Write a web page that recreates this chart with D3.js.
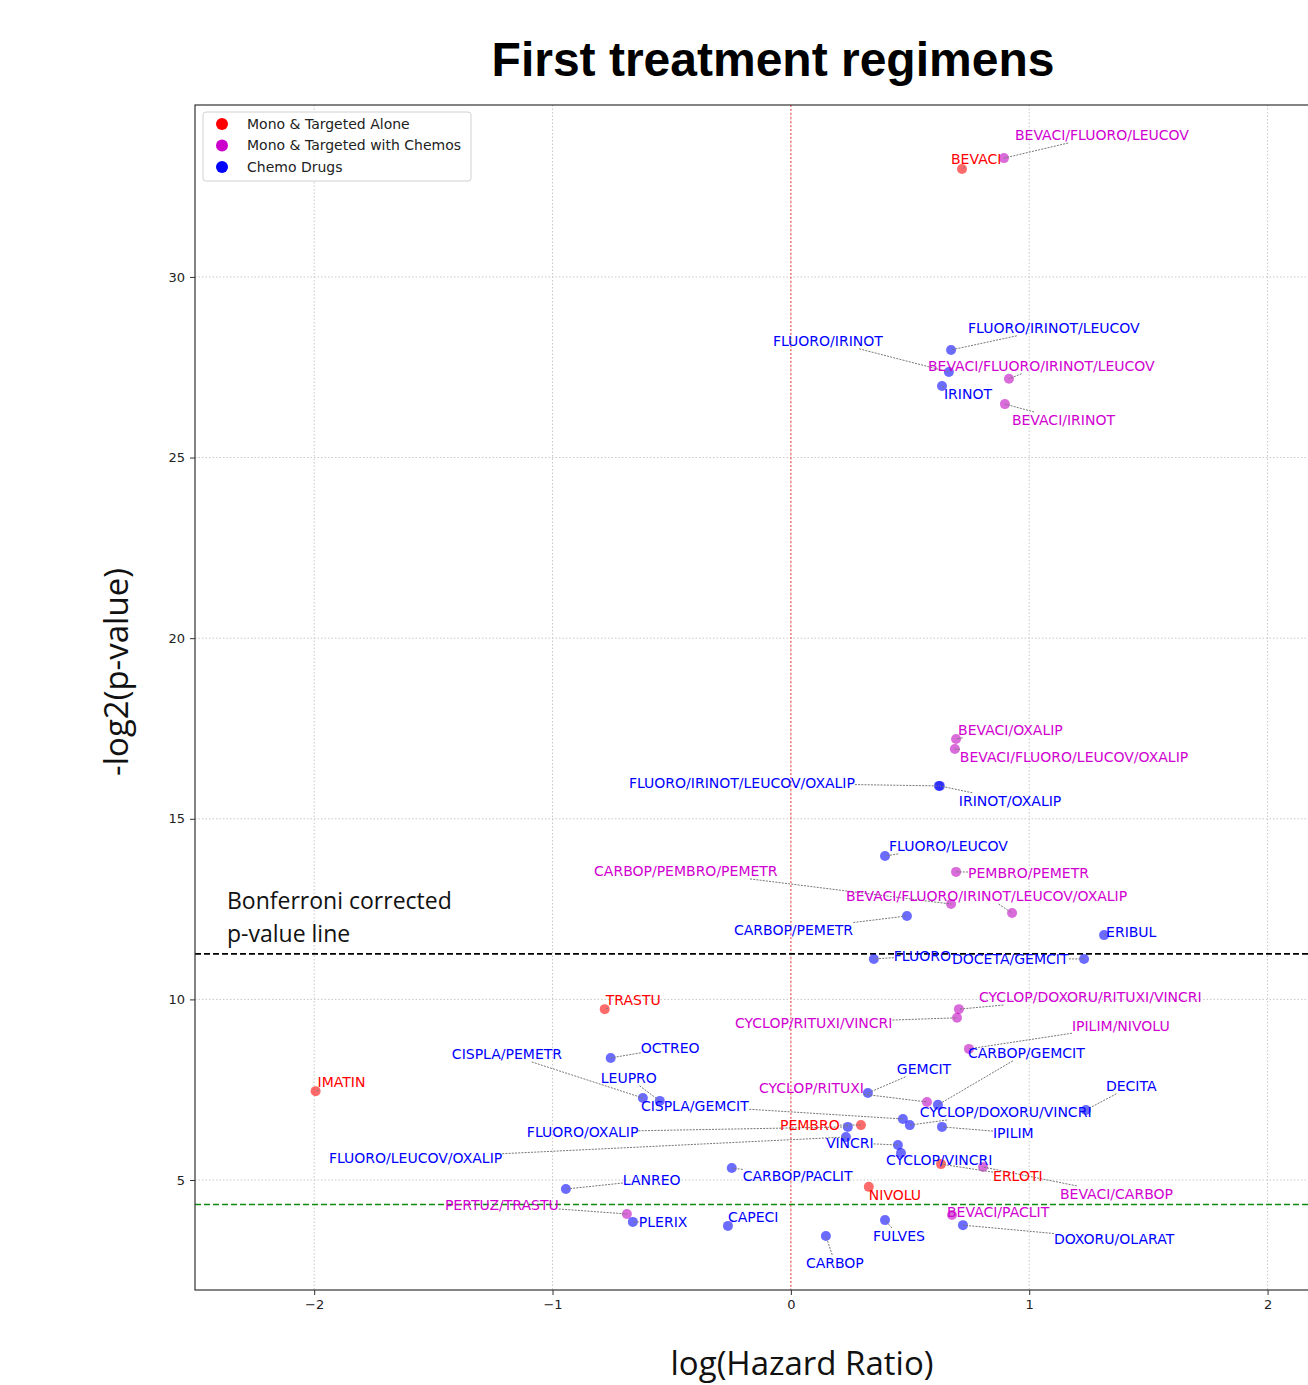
<!DOCTYPE html>
<html>
<head>
<meta charset="utf-8">
<script src="https://cdn.jsdelivr.net/npm/d3@7"></script>
<style>
  body { margin: 0; background: #fff; }
  svg { display: block; }
  .tick text { font-family: "DejaVu Sans", sans-serif; font-size: 13px; fill: #222; }
  .lbl { font-family: "DejaVu Sans", sans-serif; font-size: 14px; }
</style>
</head>
<body>
<div id="chart"></div>
<script>
// drug regimens, their group, log hazard ratio and -log2(p)
const drugs = [
  "BEVACI/FLUORO/LEUCOV", "BEVACI", "FLUORO/IRINOT/LEUCOV", "FLUORO/IRINOT",
  "BEVACI/FLUORO/IRINOT/LEUCOV", "IRINOT", "BEVACI/IRINOT", "BEVACI/OXALIP",
  "BEVACI/FLUORO/LEUCOV/OXALIP", "FLUORO/IRINOT/LEUCOV/OXALIP", "IRINOT/OXALIP", "FLUORO/LEUCOV",
  "PEMBRO/PEMETR", "CARBOP/PEMBRO/PEMETR", "BEVACI/FLUORO/IRINOT/LEUCOV/OXALIP", "CARBOP/PEMETR",
  "ERIBUL", "FLUORO", "DOCETA/GEMCIT", "TRASTU",
  "CYCLOP/DOXORU/RITUXI/VINCRI", "CYCLOP/RITUXI/VINCRI", "IPILIM/NIVOLU", "CARBOP/GEMCIT",
  "OCTREO", "CISPLA/PEMETR", "LEUPRO", "CISPLA/GEMCIT",
  "GEMCIT", "CYCLOP/RITUXI", "CYCLOP/DOXORU/VINCRI", "DECITA",
  "PEMBRO", "FLUORO/OXALIP", "IPILIM", "FLUORO/LEUCOV/OXALIP",
  "VINCRI", "CYCLOP/VINCRI", "ERLOTI", "BEVACI/CARBOP",
  "CARBOP/PACLIT", "LANREO", "NIVOLU", "IMATIN",
  "PERTUZ/TRASTU", "PLERIX", "CAPECI", "CARBOP",
  "FULVES", "BEVACI/PACLIT", "DOXORU/OLARAT"
];
const groups = [
  "with", "alone", "chemo", "chemo",
  "with", "chemo", "with", "with",
  "with", "chemo", "chemo", "chemo",
  "with", "with", "with", "chemo",
  "chemo", "chemo", "chemo", "alone",
  "with", "with", "with", "chemo",
  "chemo", "chemo", "chemo", "chemo",
  "chemo", "with", "chemo", "chemo",
  "alone", "chemo", "chemo", "chemo",
  "chemo", "chemo", "alone", "with",
  "chemo", "chemo", "alone", "alone",
  "with", "chemo", "chemo", "chemo",
  "chemo", "with", "chemo"
];
const logHR = [
  0.894, 0.718, 0.672, 0.663,
  0.915, 0.634, 0.898, 0.693,
  0.688, 0.621, 0.625, 0.395,
  0.693, 0.672, 0.928, 0.487,
  1.314, 0.348, 1.230, -0.781,
  0.705, 0.697, 0.747, 0.617,
  -0.756, -0.621, -0.550, 0.470,
  0.323, 0.571, 0.499, 1.238,
  0.294, 0.239, 0.634, 0.231,
  0.449, 0.462, 0.630, 0.806,
  -0.248, -0.944, 0.327, -1.994,
  -0.688, -0.663, -0.264, 0.147,
  0.395, 0.676, 0.722
];
const negLog2P = [
  33.29, 32.99, 27.98, 27.37,
  27.18, 26.98, 26.48, 17.21,
  16.93, 15.91, 15.91, 13.97,
  13.53, 12.64, 12.39, 12.31,
  11.78, 11.12, 11.12, 9.73,
  9.73, 9.49, 8.63, 7.08,
  8.38, 7.27, 7.19, 6.69,
  7.41, 7.16, 6.52, 6.94,
  6.52, 6.47, 6.47, 6.19,
  5.97, 5.75, 5.44, 5.36,
  5.33, 4.75, 4.81, 7.46,
  4.06, 3.84, 3.73, 3.45,
  3.89, 4.03, 3.75
];
const bonferroni = 11.26;
const nominal = 4.32;   // -log2(0.05)

const xTicks = [-2, -1, 0, 1, 2];
const yTicks = [5, 10, 15, 20, 25, 30];

const groupNames = ["alone", "with", "chemo"];
const legendLabels = ["Mono & Targeted Alone", "Mono & Targeted with Chemos", "Chemo Drugs"];

// label placement (pixel offset of label's left/middle from the point), as the repelled layout had it
const labelOffsets = [
  [11, -23], [-11, -10], [17, -22], [-176, -31],
  [-81, -13], [2, 8], [7, 16], [2, -9],
  [5, 8], [-310, -3], [19, 15], [4, -10],
  [12, 1], [-357, -33], [-166, -17], [-173, 14],
  [2, -3], [20, -3], [-132, 0], [1, -9],
  [20, -12], [-222, 5], [103, -23], [30, -52],
  [30, -10], [-191, -44], [-59, -23], [-262, -13],
  [29, -24], [-168, -14], [10, -13], [20, -24],
  [-81, 0], [-321, 5], [51, 6], [-517, 21],
  [-72, -2], [-15, 7], [52, 12], [77, 27],
  [11, 8], [57, -9], [0, 8], [2, -9],
  [-182, -9], [6, 0], [0, -9], [-20, 27],
  [-12, 16], [-5, -3], [91, 14]
];

const W = 1308, H = 1385;
const plot = {left: 195, right: 1351, top: 105, bottom: 1290};

const dotColor = d3.scaleOrdinal().domain(groupNames).range(["#ff0000", "#bf00bf", "#0000ff"]);
const textColor = d3.scaleOrdinal().domain(groupNames).range(["#ff0000", "#d000d0", "#0000ff"]);
const legendColor = d3.scaleOrdinal().domain(groupNames).range(["#ff0000", "#cc00cc", "#0000ff"]);

const x = d3.scaleLinear().domain([-2.5, 2.35]).range([plot.left, plot.right]);
const y = d3.scaleLinear().domain([1.955, 34.76]).range([plot.bottom, plot.top]);

const svg = d3.select("#chart").append("svg").attr("width", W).attr("height", H);

// title
svg.append("text").attr("x", 773).attr("y", 76).attr("text-anchor", "middle")
  .style("font-family", "'Liberation Sans', Arial, sans-serif").style("font-weight", "bold")
  .style("font-size", "48px").text("First treatment regimens");

// grid
const grid = svg.append("g");
grid.selectAll(".gx").data(xTicks).enter().append("line")
  .attr("x1", d => x(d)).attr("x2", d => x(d)).attr("y1", plot.top).attr("y2", plot.bottom)
  .attr("stroke", "#c8c8c8").attr("stroke-width", 1).attr("stroke-dasharray", "1.5,2");
grid.selectAll(".gy").data(yTicks).enter().append("line")
  .attr("x1", plot.left).attr("x2", plot.right).attr("y1", d => y(d)).attr("y2", d => y(d))
  .attr("stroke", "#c8c8c8").attr("stroke-width", 1).attr("stroke-dasharray", "1.5,2");

// reference lines
svg.append("line").attr("x1", x(0)).attr("x2", x(0)).attr("y1", plot.top).attr("y2", plot.bottom)
  .attr("stroke", "#ff0000").attr("stroke-opacity", 0.55).attr("stroke-width", 1.3).attr("stroke-dasharray", "2,2");
svg.append("line").attr("x1", plot.left).attr("x2", plot.right).attr("y1", y(bonferroni)).attr("y2", y(bonferroni))
  .attr("stroke", "#000").attr("stroke-width", 1.6).attr("stroke-dasharray", "6,3");
svg.append("line").attr("x1", plot.left).attr("x2", plot.right).attr("y1", y(nominal)).attr("y2", y(nominal))
  .attr("stroke", "#108a10").attr("stroke-width", 1.6).attr("stroke-dasharray", "6,3");

// axes
const xAxis = svg.append("g").attr("transform", `translate(0,${plot.bottom})`)
  .call(d3.axisBottom(x).tickValues(xTicks).tickSize(5).tickPadding(5).tickFormat(d => d < 0 ? "\u2212" + Math.abs(d) : d));
const yAxis = svg.append("g").attr("transform", `translate(${plot.left},0)`)
  .call(d3.axisLeft(y).tickValues(yTicks).tickSize(5).tickPadding(5));
[xAxis, yAxis].forEach(a => { a.select(".domain").remove(); a.selectAll(".tick line").attr("stroke", "#333"); });

svg.append("rect").attr("x", plot.left).attr("y", plot.top)
  .attr("width", plot.right - plot.left).attr("height", plot.bottom - plot.top)
  .attr("fill", "none").attr("stroke", "#333").attr("stroke-width", 1.2);

// points
const data = drugs.map((name, i) => ({name, group: groups[i], hr: logHR[i], p: negLog2P[i], off: labelOffsets[i]}));

svg.append("g").selectAll("circle").data(data).enter().append("circle")
  .attr("cx", d => x(d.hr)).attr("cy", d => y(d.p)).attr("r", 5)
  .attr("fill", d => dotColor(d.group)).attr("fill-opacity", 0.58);

// labels + connectors
const conn = svg.append("g");
const labels = svg.append("g");
data.forEach(d => {
  const px = x(d.hr), py = y(d.p);
  const t = labels.append("text").attr("class", "lbl")
    .attr("x", px + d.off[0]).attr("y", py + d.off[1]).attr("dy", "0.35em")
    .attr("fill", textColor(d.group)).text(d.name);
  const b = t.node().getBBox();
  const cx = b.x + b.width / 2, cy = b.y + b.height / 2;
  const dx = px - cx, dy = py - cy;
  if (Math.abs(dx) <= b.width / 2 && Math.abs(dy) <= b.height / 2) return;
  const s = Math.min(dx !== 0 ? (b.width / 2) / Math.abs(dx) : Infinity, dy !== 0 ? (b.height / 2) / Math.abs(dy) : Infinity);
  conn.append("line")
    .attr("x1", cx + dx * s).attr("y1", cy + dy * s).attr("x2", px).attr("y2", py)
    .attr("stroke", "#777").attr("stroke-width", 1).attr("stroke-dasharray", "2,1.2");
});

// Bonferroni annotation
const ann = svg.append("text").style("font-family", "'Open Sans', sans-serif").style("font-size", "23px").attr("fill", "#111");
ann.append("tspan").attr("x", 227).attr("y", 909).text("Bonferroni corrected");
ann.append("tspan").attr("x", 227).attr("y", 942).text("p-value line");

// axis titles
svg.append("text").attr("x", 802).attr("y", 1375).attr("text-anchor", "middle")
  .style("font-family", "'Open Sans', sans-serif").style("font-size", "33px").attr("fill", "#111")
  .text("log(Hazard Ratio)");
svg.append("text").attr("transform", "translate(128,672) rotate(-90)").attr("text-anchor", "middle")
  .style("font-family", "'Open Sans', sans-serif").style("font-size", "33px").attr("fill", "#111")
  .text("-log2(p-value)");

// legend
const lg = svg.append("g").attr("transform", "translate(203,112)");
lg.append("rect").attr("width", 268).attr("height", 69).attr("rx", 3)
  .attr("fill", "#fff").attr("fill-opacity", 0.85).attr("stroke", "#d0d0d0");
groupNames.forEach((g, i) => {
  lg.append("circle").attr("cx", 19).attr("cy", 12 + i * 21.5).attr("r", 6).attr("fill", legendColor(g));
  lg.append("text").attr("x", 44).attr("y", 12 + i * 21.5).attr("dy", "0.35em")
    .style("font-family", "'DejaVu Sans', sans-serif").style("font-size", "14px").attr("fill", "#222")
    .text(legendLabels[i]);
});
</script>
</body>
</html>
